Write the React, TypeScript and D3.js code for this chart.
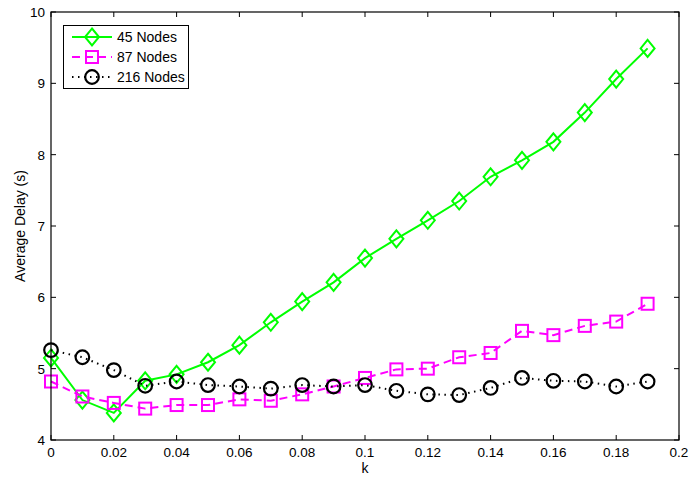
import React from 'react';
import * as d3 from 'd3';

const kValues = [0, 0.01, 0.02, 0.03, 0.04, 0.05, 0.06, 0.07, 0.08, 0.09, 0.1, 0.11, 0.12, 0.13, 0.14, 0.15, 0.16, 0.17, 0.18, 0.19];
const nodes45 = [5.15, 4.56, 4.38, 4.83, 4.92, 5.09, 5.33, 5.65, 5.94, 6.21, 6.55, 6.82, 7.08, 7.35, 7.69, 7.92, 8.18, 8.59, 9.06, 9.49];
const nodes87 = [4.82, 4.61, 4.52, 4.44, 4.49, 4.49, 4.57, 4.55, 4.64, 4.75, 4.87, 4.99, 5.0, 5.16, 5.22, 5.53, 5.47, 5.6, 5.66, 5.91];
const nodes216 = [5.26, 5.16, 4.98, 4.76, 4.82, 4.77, 4.75, 4.72, 4.77, 4.75, 4.77, 4.69, 4.64, 4.63, 4.73, 4.87, 4.83, 4.82, 4.75, 4.82];
const xTicks = [0, 0.02, 0.04, 0.06, 0.08, 0.1, 0.12, 0.14, 0.16, 0.18, 0.2];
const yTicks = [4, 5, 6, 7, 8, 9, 10];
const seriesNames = ['45 Nodes', '87 Nodes', '216 Nodes'];

const W = 691;
const H = 477;
const margin = { top: 12, right: 12, bottom: 37, left: 51 };
const font = 'Liberation Sans, Arial, Helvetica, sans-serif';

type Marker = 'diamond' | 'square' | 'circle';

function MarkerShape({ type, x, y, color }: { type: Marker; x: number; y: number; color: string }) {
  if (type === 'diamond') {
    const d = `M${x},${y - 8.5}L${x + 7},${y}L${x},${y + 8.5}L${x - 7},${y}Z`;
    return <path d={d} fill="none" stroke={color} strokeWidth={2} />;
  }
  if (type === 'square') {
    return <rect x={x - 6} y={y - 6} width={12} height={12} fill="none" stroke={color} strokeWidth={2} />;
  }
  return <circle cx={x} cy={y} r={6.8} fill="none" stroke={color} strokeWidth={2.2} />;
}

export default function App() {
  const x = d3.scaleLinear().domain([0, 0.2]).range([margin.left, W - margin.right]);
  const y = d3.scaleLinear().domain([4, 10]).range([H - margin.bottom, margin.top]);

  const series = [
    { name: seriesNames[0], values: nodes45, color: '#00ff00', dash: undefined, marker: 'diamond' as Marker },
    { name: seriesNames[1], values: nodes87, color: '#ff00ff', dash: '8,5', marker: 'square' as Marker },
    { name: seriesNames[2], values: nodes216, color: '#000000', dash: '1.5,4.5', marker: 'circle' as Marker },
  ];

  const line = d3.line<number>()
    .x((_, i) => x(kValues[i]))
    .y(d => y(d));

  const x0 = x(0), x1 = x(0.2), y0 = y(4), y1 = y(10);
  const tl = 5;

  return (
    <svg width={W} height={H} style={{ position: 'absolute', left: 0, top: 0, background: '#fff' }}>
      <rect x={0} y={0} width={W} height={H} fill="#fff" />
      {/* ticks */}
      {xTicks.map(t => (
        <g key={'x' + t}>
          <line x1={x(t)} x2={x(t)} y1={y0} y2={y0 - tl} stroke="#000" />
          <line x1={x(t)} x2={x(t)} y1={y1} y2={y1 + tl} stroke="#000" />
          <text x={x(t)} y={y0 + 17} textAnchor="middle" fontFamily={font} fontSize={13.5} fill="#000">{t}</text>
        </g>
      ))}
      {yTicks.map(t => (
        <g key={'y' + t}>
          <line x1={x0} x2={x0 + tl} y1={y(t)} y2={y(t)} stroke="#000" />
          <line x1={x1} x2={x1 - tl} y1={y(t)} y2={y(t)} stroke="#000" />
          <text x={x0 - 6} y={y(t) + 5} textAnchor="end" fontFamily={font} fontSize={13.5} fill="#000">{t}</text>
        </g>
      ))}
      <text x={(x0 + x1) / 2} y={y0 + 33} textAnchor="middle" fontFamily={font} fontSize={14} fill="#000">k</text>
      <text transform={`translate(${25},${(y0 + y1) / 2}) rotate(-90)`} textAnchor="middle" fontFamily={font} fontSize={14} fill="#000">Average Delay (s)</text>

      {/* series */}
      {series.map(s => (
        <g key={s.name}>
          <path d={line(s.values) || ''} fill="none" stroke={s.color} strokeWidth={2} strokeDasharray={s.dash} />
          {s.values.map((v, i) => (
            <MarkerShape key={i} type={s.marker} x={x(kValues[i])} y={y(v)} color={s.color} />
          ))}
        </g>
      ))}

      {/* frame */}
      <rect x={x0} y={y1} width={x1 - x0} height={y0 - y1} fill="none" stroke="#000" strokeWidth={1.2} />

      {/* legend */}
      <g>
        <rect x={63.5} y={25.5} width={125} height={63} fill="#fff" stroke="#000" />
        {series.map((s, i) => {
          const ly = 37 + i * 20;
          return (
            <g key={'leg' + s.name}>
              <line x1={72} x2={112} y1={ly} y2={ly} stroke={s.color} strokeWidth={2} strokeDasharray={s.dash} />
              <MarkerShape type={s.marker} x={92} y={ly} color={s.color} />
              <text x={117} y={ly + 5} fontFamily={font} fontSize={14} fill="#000">{s.name}</text>
            </g>
          );
        })}
      </g>
    </svg>
  );
}
